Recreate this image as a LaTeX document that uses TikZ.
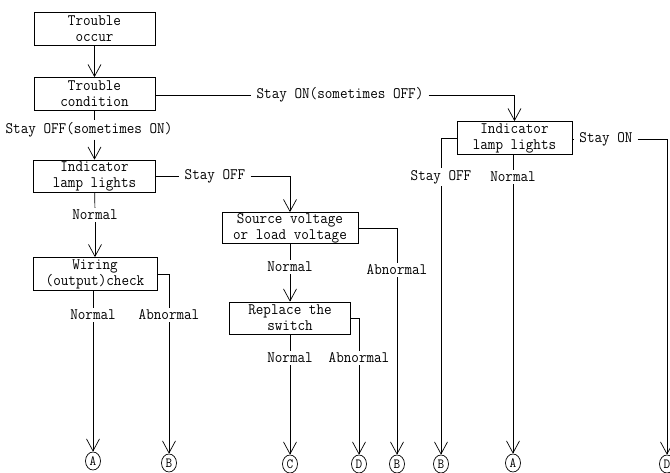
\documentclass[tikz,border=0pt]{standalone}
\usepackage{fontspec}
\setmonofont[FakeStretch=0.92]{Latin Modern Mono}
\usetikzlibrary{arrows.meta,shapes.geometric}
\begin{document}
\begin{tikzpicture}[x=1pt,y=-1pt,
  every node/.style={font=\ttfamily\fontsize{16}{16}\selectfont},
  box/.style={draw, line width=0.7pt, minimum height=33pt, align=center, inner sep=0pt},
  lbl/.style={inner xsep=5pt, inner ysep=2pt},
  circ/.style={draw, line width=0.7pt, ellipse, minimum width=15pt, minimum height=18pt, inner sep=0pt, font=\ttfamily\fontsize{14}{14}\selectfont},
  conn/.style={line width=0.7pt},
  arr/.style={conn, -{Straight Barb[length=12pt,width=13pt]}}
]
\useasboundingbox (0,0) rectangle (670,473);
% boxes
\node[box, minimum width=121pt] (occur) at (94.5,28.5) {Trouble\\occur};
\node[box, minimum width=121pt] (cond) at (94.5,94) {Trouble\\condition};
\node[box, minimum width=122pt, minimum height=32pt] (lampL) at (94.5,176) {Indicator\\lamp lights};
\node[box, minimum width=124pt] (wiring) at (95,274) {Wiring\\(output)check};
\node[box, minimum width=136pt, minimum height=31pt] (src) at (290,228) {Source voltage\\or load voltage};
\node[box, minimum width=121pt, minimum height=32pt] (repl) at (290,318) {Replace the\\switch};
\node[box, minimum width=115pt] (lampR) at (514.5,138) {Indicator\\lamp lights};
% labels
\node[lbl] (l1) at (89,130) {Stay OFF(sometimes ON)};
\node[lbl] (s2) at (340,95) {Stay ON(sometimes OFF)};
\node[lbl] (s1) at (215,176) {Stay OFF};
\node[lbl] (n1) at (95,215) {Normal};
\node[lbl] (n2) at (93,315) {Normal};
\node[lbl] (a1) at (169,315) {Abnormal};
\node[lbl] (n3) at (290,267) {Normal};
\node[lbl] (a2) at (397,270) {Abnormal};
\node[lbl] (n4) at (290,358) {Normal};
\node[lbl] (a3) at (359,358) {Abnormal};
\node[lbl] (s3) at (441,177) {Stay OFF};
\node[lbl] (n5) at (513,177) {Normal};
\node[lbl] (s4) at (606,139) {Stay ON};
% end circles
\node[circ] (cA1) at (93,461) {A};
\node[circ] (cB1) at (169,463) {B};
\node[circ] (cC) at (290,464) {C};
\node[circ] (cD1) at (359,464) {D};
\node[circ] (cB2) at (397,464) {B};
\node[circ] (cB3) at (441,464) {B};
\node[circ] (cA2) at (513,463) {A};
\node[circ] (cD2) at (667,464) {D};
% connectors
\draw[arr] (occur) -- (cond);
\draw[conn] (cond) -- (cond |- l1.north);
\draw[arr] (cond |- l1.south) -- (lampL);
\draw[conn] (cond.east |- s2) -- (s2);
\draw[arr] (s2) -| (lampR);
\draw[conn] (lampL) -- (s1);
\draw[arr] (s1) -| (src);
\draw[conn] (lampL) -- (n1);
\draw[arr] (n1) -- (wiring);
\draw[conn] (wiring.south -| n2) -- (n2);
\draw[arr] (n2) -- (cA1);
\draw[conn] (wiring.east) -| (a1);
\draw[arr] (a1) -- (cB1);
\draw[conn] (src) -- (n3);
\draw[arr] (n3) -- (repl);
\draw[conn] (src.east) -| (a2);
\draw[arr] (a2) -- (cB2);
\draw[conn] (repl) -- (n4);
\draw[arr] (n4) -- (cC);
\draw[conn] (repl.east) -| (a3);
\draw[arr] (a3) -- (cD1);
\draw[conn] (lampR.west) -| (s3);
\draw[arr] (s3) -- (cB3);
\draw[conn] (lampR.south -| n5) -- (n5);
\draw[arr] (n5) -- (cA2);
\draw[conn] (lampR.east |- s4) -- (s4);
\draw[arr] (s4) -| (cD2);
\end{tikzpicture}
\end{document}
